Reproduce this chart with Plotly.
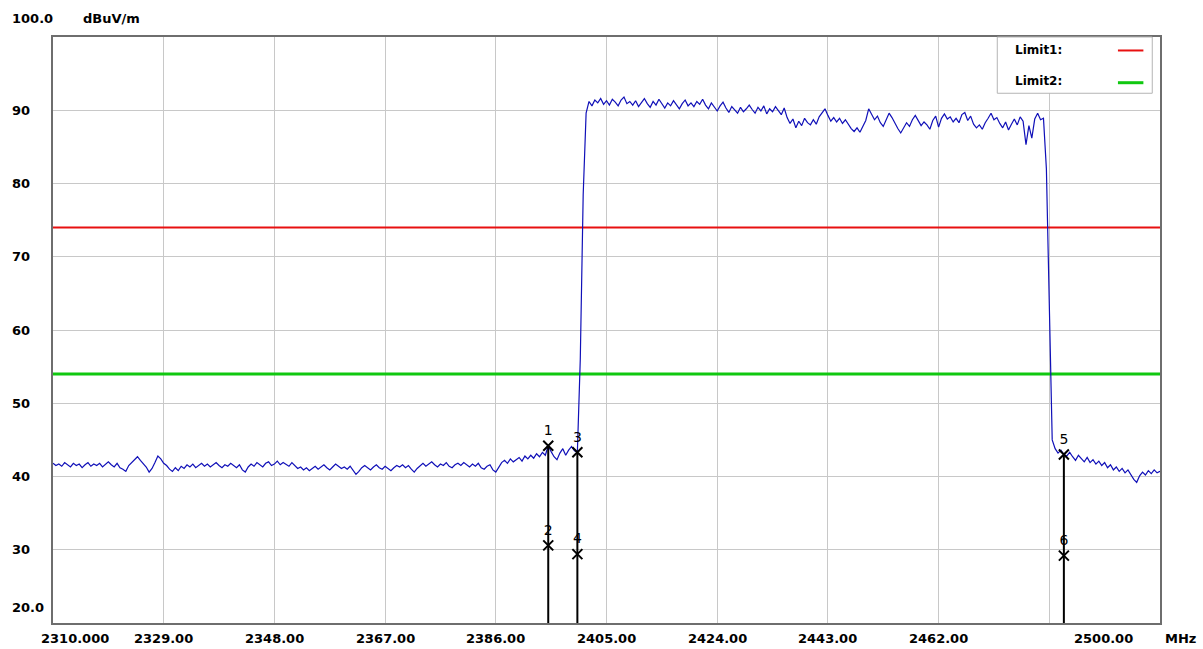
"""Band-edge radiated emission plot (2310-2500 MHz) with limit lines and markers."""

import numpy as np
import plotly.graph_objects as go

# sweep: 2310 .. 2500 MHz, 0.5 MHz per point
F_START, F_STOP, F_STEP = 2310.0, 2500.0, 0.5

# trace levels in dBuV/m, one row per 10 MHz (20 points each)
LEVEL = [
    41.8, 41.5, 41.7, 41.4, 41.9, 41.6, 41.3, 41.8, 41.5, 41.7, 41.2, 41.6, 41.9, 41.4, 41.7, 41.5, 41.8, 41.3, 41.6, 42.0,
    41.6, 41.3, 41.8, 41.2, 41.0, 40.7, 41.5, 41.9, 42.3, 42.7, 42.2, 41.8, 41.3, 40.6, 41.1, 41.9, 42.8, 42.4, 41.8, 41.5,
    41.0, 40.7, 41.2, 40.8, 41.4, 41.1, 41.6, 41.3, 41.7, 41.2, 41.5, 41.8, 41.4, 41.7, 41.3, 41.6, 41.9, 41.5, 41.2, 41.6,
    41.4, 41.8, 41.5, 41.2, 41.6, 40.9, 40.6, 41.3, 41.7, 41.4, 41.9, 41.6, 41.3, 41.8, 42.0, 41.5, 41.7, 42.1, 41.6, 41.9,
    41.7, 41.4, 41.9, 41.5, 41.1, 41.3, 40.9, 41.2, 40.8, 41.1, 41.4, 41.0, 41.3, 41.6, 41.2, 40.9, 41.3, 41.7, 41.4, 41.1,
    41.3, 41.0, 41.4, 40.8, 40.3, 40.7, 41.2, 41.5, 41.2, 40.9, 41.3, 41.6, 41.2, 41.0, 41.4, 41.1, 40.8, 41.2, 41.5, 41.3,
    41.6, 41.2, 41.5, 41.0, 40.6, 41.1, 41.5, 41.8, 41.4, 41.7, 42.0, 41.6, 41.3, 41.7, 41.5, 41.9, 41.4, 41.2, 41.6, 41.8,
    41.5, 41.9, 41.6, 41.3, 41.7, 41.4, 41.8, 41.2, 41.0, 41.4, 41.6, 40.9, 40.6, 41.3, 41.9, 42.2, 41.8, 42.4, 42.0, 42.3,
    42.6, 42.1, 42.8, 42.4, 42.9, 42.5, 43.1, 42.7, 43.3, 42.9, 44.2, 43.4, 42.7, 42.3, 43.2, 43.8, 42.9, 43.6, 44.1, 43.5,
    43.3, 56.0, 78.5, 89.6, 91.2, 90.6, 91.4, 91.0, 91.6, 90.8, 91.3, 90.7, 91.5, 91.1, 90.6, 91.4, 91.8, 90.9, 91.2, 90.7,
    91.3, 90.5, 91.1, 91.6, 90.9, 90.4, 91.2, 90.7, 91.5, 90.9, 90.3, 91.0, 90.6, 91.3, 90.8, 90.2, 90.9, 91.4, 90.6, 91.0,
    90.5, 91.2, 90.8, 91.5, 90.7, 90.2, 91.0, 90.4, 89.9, 90.6, 91.1, 90.3, 89.7, 90.5, 90.1, 89.6, 90.4, 89.8, 90.2, 90.7,
    90.1, 89.6, 90.4, 89.9, 90.6, 89.5, 90.2, 89.8, 90.5, 90.0, 89.4, 90.3, 89.0, 88.2, 88.8, 87.6, 88.5, 87.9, 88.9, 88.3,
    88.0, 88.7, 88.1, 89.1, 89.6, 90.2, 89.3, 88.5, 89.0, 88.4, 88.9, 88.2, 88.7, 88.0, 87.5, 87.1, 87.6, 87.0, 87.8, 88.6,
    90.2, 89.5, 88.7, 89.2, 88.3, 87.8, 88.6, 89.6, 89.0, 88.2, 87.5, 86.9, 87.6, 88.3, 87.8, 88.7, 89.3, 88.6, 87.9, 88.4,
    88.0, 87.4, 88.6, 89.2, 87.7, 88.9, 89.5, 88.8, 89.1, 88.4, 88.9, 88.3, 89.4, 89.7, 88.6, 89.2, 88.1, 87.6, 88.0, 87.4,
    88.3, 88.9, 89.6, 88.7, 89.0, 88.2, 87.6, 88.4, 87.3, 88.1, 88.8, 88.0, 89.1, 88.5, 85.3, 87.9, 86.2, 88.8, 89.6, 88.7,
    88.9, 82.0, 61.5, 45.0, 43.8, 43.2, 43.6, 43.0, 42.8, 43.3, 42.7, 42.2, 42.9, 42.4, 42.0, 42.6, 41.9, 42.3, 41.7, 42.1,
    41.5, 41.9, 41.2, 41.6, 40.9, 41.3, 40.7, 41.1, 40.5, 40.9, 40.3, 39.6, 39.2, 40.1, 40.6, 40.2, 40.8, 40.4, 40.9, 40.5,
    40.7,
]

LIMIT1 = 74.0
LIMIT2 = 54.0

MARKER_NO = ["1", "2", "3", "4", "5", "6"]
MARKER_FREQ = [2395.0, 2395.0, 2400.0, 2400.0, 2483.5, 2483.5]
MARKER_LEVEL = [44.2, 30.6, 43.3, 29.4, 43.0, 29.2]

X_TICKS = [2310, 2329, 2348, 2367, 2386, 2405, 2424, 2443, 2462, 2481, 2500]
X_TICK_TEXT = ["2310.000", "2329.00", "2348.00", "2367.00", "2386.00", "2405.00",
               "2424.00", "2443.00", "2462.00", "", "2500.00"]
Y_TICKS = [100, 90, 80, 70, 60, 50, 40, 30, 20]
Y_TICK_TEXT = ["100.0", "90", "80", "70", "60", "50", "40", "30", "20.0"]

FONT = "DejaVu Sans"
LABEL_FONT = dict(family=FONT, size=13, color="black", weight="bold")
freq = np.arange(F_START, F_STOP + F_STEP / 2, F_STEP)

fig = go.Figure()

# limit lines
for lvl, col, w in [(LIMIT1, "#E81010", 2), (LIMIT2, "#10C810", 3)]:
    fig.add_trace(go.Scatter(x=[F_START, F_STOP], y=[lvl, lvl], mode="lines",
                             line=dict(color=col, width=w), hoverinfo="skip"))

# measured trace
fig.add_trace(go.Scatter(x=freq, y=LEVEL, mode="lines",
                         line=dict(color="#1010B8", width=1.2)))

# marker drop lines
mx, my = [], []
for f in sorted(set(MARKER_FREQ)):
    top = max(l for ff, l in zip(MARKER_FREQ, MARKER_LEVEL) if ff == f)
    mx += [f, f, None]
    my += [top, 20, None]
fig.add_trace(go.Scatter(x=mx, y=my, mode="lines", line=dict(color="black", width=2),
                         hoverinfo="skip"))

fig.add_trace(go.Scatter(
    x=MARKER_FREQ, y=MARKER_LEVEL, mode="markers+text",
    marker=dict(symbol="x-thin-open", size=10, color="black", line=dict(color="black", width=2)),
    text=MARKER_NO, textposition="top center",
    textfont=dict(family=FONT, size=14, color="black"),
))

ann = []
# y labels
for v, t in zip(Y_TICKS, Y_TICK_TEXT):
    shift = 19 if v == 100 else (16 if v == 20 else 0)
    ann.append(dict(x=0, xref="paper", y=v, yref="y", text=t, showarrow=False,
                    xanchor="left", xshift=-43, yshift=shift, font=LABEL_FONT))
ann.append(dict(x=0, xref="paper", y=100, yref="y", text="dBuV/m", showarrow=False,
                xanchor="left", xshift=28, yshift=19, font=LABEL_FONT))
# x labels
for v, t in zip(X_TICKS, X_TICK_TEXT):
    if not t:
        continue
    shift = 22 if v == 2310 else (-57 if v == 2500 else 0)
    ann.append(dict(x=v, xref="x", y=0, yref="paper", text=t, showarrow=False,
                    xanchor="center", yanchor="middle", xshift=shift, yshift=-15,
                    font=LABEL_FONT))
ann.append(dict(x=F_STOP, xref="x", y=0, yref="paper", text="MHz", showarrow=False,
                xanchor="left", yanchor="middle", xshift=3, yshift=-15, font=LABEL_FONT))

# legend box
for yy, lab in [(0.978, "Limit1:"), (0.925, "Limit2:")]:
    ann.append(dict(x=0.867, xref="paper", y=yy, yref="paper", text=lab, showarrow=False,
                    xanchor="left", yanchor="middle",
                    font=dict(family=FONT, size=12, color="black", weight="bold")))
shapes = [
    dict(type="rect", xref="paper", yref="paper", x0=0.853, x1=0.993, y0=0.904, y1=1.0,
         line=dict(color="#B4B4B4", width=1), fillcolor="white", layer="above"),
    dict(type="line", xref="paper", yref="paper", x0=0.962, x1=0.985, y0=0.977, y1=0.977,
         line=dict(color="#E81010", width=2), layer="above"),
    dict(type="line", xref="paper", yref="paper", x0=0.962, x1=0.985, y0=0.922, y1=0.922,
         line=dict(color="#10C810", width=3), layer="above"),
]

fig.update_layout(
    width=1203, height=649,
    margin=dict(l=53, r=43, t=37, b=26),
    paper_bgcolor="white", plot_bgcolor="white",
    showlegend=False,
    annotations=ann, shapes=shapes,
    xaxis=dict(range=[F_START, F_STOP], tickvals=X_TICKS, showticklabels=False,
               showgrid=True, gridcolor="#C8C8C8", gridwidth=1, zeroline=False,
               showline=True, mirror=True, linecolor="#6E6E6E", linewidth=2, ticks=""),
    yaxis=dict(range=[20, 100], tickvals=Y_TICKS, showticklabels=False,
               showgrid=True, gridcolor="#C8C8C8", gridwidth=1, zeroline=False,
               showline=True, mirror=True, linecolor="#6E6E6E", linewidth=2, ticks=""),
)

# the page's default 8px body margin would shift the whole figure
fig.write_html("out.html", config={"displayModeBar": False},
               post_script="document.body.style.margin='0';")
